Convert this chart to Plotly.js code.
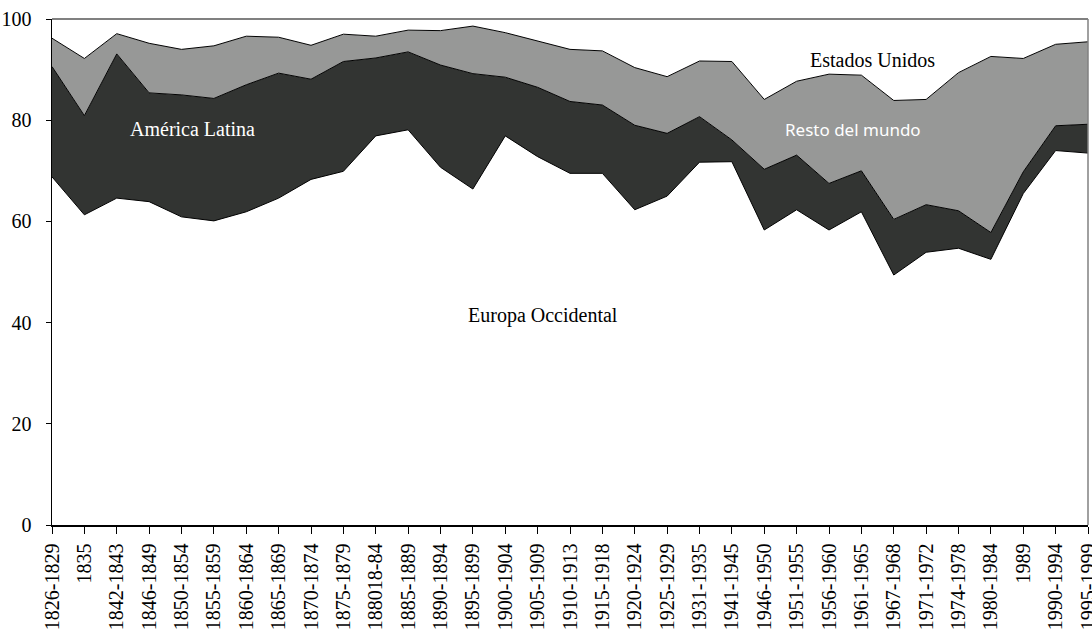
<!DOCTYPE html>
<html>
<head>
<meta charset="utf-8">
<script src="https://cdn.plot.ly/plotly-3.0.1.min.js"></script>
<style>html,body{margin:0;padding:0;background:#fff;}#chart{width:1092px;height:630px;}</style>
</head>
<body>
<div id="chart"></div>
<script>
var categories = ["1826-1829","1835","1842-1843","1846-1849","1850-1854","1855-1859","1860-1864","1865-1869","1870-1874","1875-1879","188018-84","1885-1889","1890-1894","1895-1899","1900-1904","1905-1909","1910-1913","1915-1918","1920-1924","1925-1929","1931-1935","1941-1945","1946-1950","1951-1955","1956-1960","1961-1965","1967-1968","1971-1972","1974-1978","1980-1984","1989","1990-1994","1995-1999"];

var europaOccidental = [68.8,61.3,64.6,63.9,60.9,60.1,61.9,64.6,68.3,69.9,76.9,78.1,70.7,66.4,76.9,72.8,69.5,69.5,62.3,65.0,71.7,71.8,58.3,62.3,58.3,61.9,49.4,53.9,54.7,52.5,65.5,74.0,73.5];
var americaLatina = [21.8,19.6,28.5,21.5,24.1,24.2,25.1,24.7,19.8,21.7,15.4,15.4,20.2,22.8,11.6,13.7,14.2,13.5,16.7,12.4,9.0,4.3,12.0,10.8,9.2,8.1,11.0,9.4,7.4,5.3,4.3,4.9,5.7];
var restoDelMundo = [5.6,11.3,4.0,9.8,9.0,10.4,9.6,7.1,6.7,5.4,4.3,4.3,6.8,9.4,8.8,9.1,10.3,10.7,11.4,11.2,11.0,15.5,13.8,14.6,21.6,18.9,23.5,20.8,27.3,34.8,22.4,16.1,16.3];
var estadosUnidos = [3.8,7.8,2.9,4.8,6.0,5.3,3.4,3.6,5.2,3.0,3.4,2.2,2.3,1.4,2.7,4.4,6.0,6.3,9.6,11.4,8.3,8.4,15.9,12.3,10.9,11.1,16.1,15.9,10.6,7.4,7.8,5.0,4.5];

var serif = "Liberation Serif, Times New Roman, serif";
var lineStyle = {color: "#000000", width: 1};

var traces = [
  {x: categories, y: europaOccidental, name: "Europa Occidental", type: "scatter", mode: "lines", stackgroup: "one", line: lineStyle, fillcolor: "#ffffff"},
  {x: categories, y: americaLatina, name: "América Latina", type: "scatter", mode: "lines", stackgroup: "one", line: lineStyle, fillcolor: "#323432"},
  {x: categories, y: restoDelMundo, name: "Resto del mundo", type: "scatter", mode: "lines", stackgroup: "one", line: lineStyle, fillcolor: "#979897"},
  {x: categories, y: estadosUnidos, name: "Estados Unidos", type: "scatter", mode: "lines", stackgroup: "one", line: {color: "rgba(0,0,0,0)", width: 0}, fillcolor: "#ffffff"}
];

var layout = {
  width: 1092, height: 630,
  margin: {l: 52, r: 4, t: 19, b: 105},
  paper_bgcolor: "#ffffff", plot_bgcolor: "#ffffff",
  showlegend: false,
  font: {family: serif, color: "#000000"},
  xaxis: {
    type: "category", range: [0, 32],
    tickangle: -90, ticks: "outside", ticklen: 7, tickcolor: "#000000",
    tickfont: {family: serif, size: 20, color: "#000000"},
    ticklabelstandoff: 2,
    showline: true, linecolor: "#000000", linewidth: 1.5,
    showgrid: false, zeroline: false
  },
  yaxis: {
    range: [0, 100], tickvals: [0,20,40,60,80,100],
    ticks: "outside", ticklen: 5, tickcolor: "#000000",
    tickfont: {family: serif, size: 20, color: "#000000"},
    ticklabelstandoff: 10,
    showline: true, linecolor: "#000000", linewidth: 1.5,
    showgrid: false, zeroline: false
  },
  shapes: [
    {type: "line", xref: "paper", yref: "paper", x0: 0, x1: 1, y0: 1, y1: 1, line: {color: "#808080", width: 2}},
    {type: "line", xref: "paper", yref: "paper", x0: 1, x1: 1, y0: 0, y1: 1, line: {color: "#808080", width: 1.5}}
  ],
  annotations: [
    {x: 4.34, y: 78.3, xref: "x", yref: "y", text: "América Latina", showarrow: false, font: {family: serif, size: 20, color: "#ffffff"}},
    {x: 15.17, y: 41.5, xref: "x", yref: "y", text: "Europa Occidental", showarrow: false, font: {family: serif, size: 20, color: "#000000"}},
    {x: 25.33, y: 91.9, xref: "x", yref: "y", text: "Estados Unidos", showarrow: false, font: {family: serif, size: 20, color: "#000000"}},
    {x: 24.73, y: 78.1, xref: "x", yref: "y", text: "Resto del mundo", showarrow: false, font: {family: "Noto Sans, Open Sans, sans-serif", size: 17, color: "#ffffff"}}
  ]
};

Plotly.newPlot("chart", traces, layout, {displayModeBar: false, staticPlot: true});
</script>
</body>
</html>
